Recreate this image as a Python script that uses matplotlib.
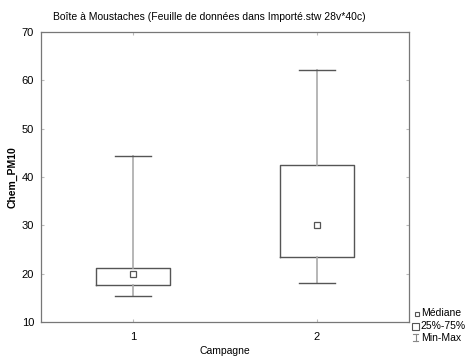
import matplotlib
matplotlib.use("Agg")
import matplotlib.pyplot as plt
from matplotlib.lines import Line2D
from matplotlib.patches import Rectangle

plt.rcParams["font.family"] = ["Liberation Sans", "DejaVu Sans"]

# box-plot statistics
campagnes = [1, 2]
mins = [15.4, 18.0]
q1 = [17.7, 23.5]
medians = [19.9, 30.1]
q3 = [21.1, 42.4]
maxs = [44.3, 62.1]

C_EDGE = "#555555"
C_WHISK = "#aaaaaa"
FS = 7.5
W, H = 469, 358


def fx(x):
    return x / W


def fy(y):
    return 1 - y / H


fig = plt.figure(figsize=(W / 100, H / 100), dpi=100)
ax = fig.add_axes([fx(41), fy(322), 368 / W, 290 / H])

stats = [
    dict(med=m, q1=a, q3=b, whislo=lo, whishi=hi, fliers=[], label=str(c))
    for c, lo, a, m, b, hi in zip(campagnes, mins, q1, medians, q3, maxs)
]
ax.bxp(
    stats, positions=campagnes, widths=0.40, showfliers=False,
    boxprops=dict(color=C_EDGE, lw=1.0),
    whiskerprops=dict(color=C_WHISK, lw=1.2),
    capprops=dict(color=C_EDGE, lw=1.0),
    medianprops=dict(lw=0),
    capwidths=0.2,
)
ax.plot(campagnes, medians, ls="none", marker="s", ms=4.5,
        mfc="white", mec=C_EDGE, mew=0.9, zorder=5)

ax.set_xlim(0.5, 2.5)
ax.set_ylim(10, 70)
ax.set_xticks(campagnes)
ax.set_xticklabels([str(c) for c in campagnes])
ax.set_yticks(range(10, 71, 10))
ax.tick_params(direction="in", length=2, color="#bbbbbb", labelsize=8,
               top=True, right=True)
ax.tick_params(axis="x", pad=7)
ax.tick_params(axis="y", pad=5)
for s in ax.spines.values():
    s.set_color("#777777")
    s.set_linewidth(0.9)

ax.set_xlabel("Campagne", fontsize=FS, labelpad=3)
ax.set_ylabel("Chem_PM10", fontsize=FS, fontweight="bold", labelpad=3)
fig.text(fx(53), fy(17),
         "Boîte à Moustaches (Feuille de données dans Importé.stw 28v*40c)",
         fontsize=FS, va="center", ha="left")

# legend drawn by hand, outside the axes at the bottom right
fig.add_artist(Rectangle((fx(414.5), fy(315.5)), 4 / W, 4 / H,
                         transform=fig.transFigure, fill=False,
                         ec=C_EDGE, lw=0.8))
fig.text(fx(421.5), fy(313), "Médiane", fontsize=FS, va="center", ha="left")
fig.add_artist(Rectangle((fx(412), fy(329.5)), 6.5 / W, 6.5 / H,
                         transform=fig.transFigure, fill=False,
                         ec=C_EDGE, lw=0.8))
fig.text(fx(420), fy(326), "25%-75%", fontsize=FS, va="center", ha="left")
for xs, ys in [([415.5, 415.5], [334, 341]), ([413, 418], [334, 334]),
               ([413, 418], [341, 341])]:
    fig.add_artist(Line2D([fx(v) for v in xs], [fy(v) for v in ys],
                          transform=fig.transFigure, color="#888888", lw=0.8))
fig.text(fx(421), fy(337.7), "Min-Max", fontsize=FS, va="center", ha="left")

fig.savefig("out.png", dpi=100)
